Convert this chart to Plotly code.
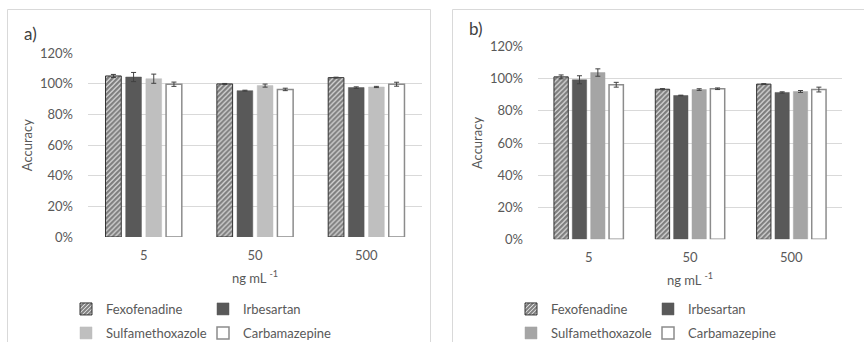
import plotly.graph_objects as go

categories = ["5", "50", "500"]
series = ["Fexofenadine", "Irbesartan", "Sulfamethoxazole", "Carbamazepine"]

# Panel a) accuracy (%) and error (%)
a_values = {
    "Fexofenadine": [105.2, 100.0, 104.1],
    "Irbesartan": [104.5, 95.6, 97.6],
    "Sulfamethoxazole": [103.4, 98.9, 98.0],
    "Carbamazepine": [99.8, 96.4, 99.8],
}
a_errors = {
    "Fexofenadine": [1.0, 0.3, 0.3],
    "Irbesartan": [3.0, 0.3, 0.5],
    "Sulfamethoxazole": [3.0, 1.0, 0.4],
    "Carbamazepine": [1.4, 0.8, 1.3],
}
# Panel b)
b_values = {
    "Fexofenadine": [101.2, 93.5, 96.7],
    "Irbesartan": [99.4, 89.6, 91.5],
    "Sulfamethoxazole": [103.9, 93.3, 92.1],
    "Carbamazepine": [96.3, 93.8, 93.3],
}
b_errors = {
    "Fexofenadine": [1.2, 0.4, 0.3],
    "Irbesartan": [2.5, 0.2, 0.4],
    "Sulfamethoxazole": [2.3, 0.5, 0.6],
    "Carbamazepine": [1.5, 0.5, 1.5],
}

y_ticks = [0, 20, 40, 60, 80, 100, 120]
y_tick_labels = ["0%", "20%", "40%", "60%", "80%", "100%", "120%"]

W, H = 864, 342
TXT = "#595959"
GRID = "#d9d9d9"
FONT = "Lato"

def style(name, panel):
    if name == "Fexofenadine":
        return dict(color="white", line=dict(color="#333333", width=1),
                    pattern=dict(shape="/", fgcolor="#000000", bgcolor="white",
                                 size=3.5, solidity=0.75))
    if name == "Irbesartan":
        return dict(color="#595959", line=dict(color="#595959", width=0.5))
    if name == "Sulfamethoxazole":
        c = "#bfbfbf" if panel == "a" else "#a5a5a5"
        return dict(color=c, line=dict(color=c, width=0.5))
    return dict(color="white", line=dict(color="#8c8c8c", width=1.5))

fig = go.Figure()
legends = {"a": ["legend", "legend2"], "b": ["legend3", "legend4"]}
for panel, vals, errs, xa, ya in [("a", a_values, a_errors, "x", "y"),
                                  ("b", b_values, b_errors, "x2", "y2")]:
    for i, s in enumerate(series):
        fig.add_trace(go.Bar(
            x=categories, y=vals[s], name=s, xaxis=xa, yaxis=ya,
            marker=style(s, panel),
            error_y=dict(type="data", array=errs[s], visible=True,
                         color="#404040", thickness=1, width=2.5),
            legend=legends[panel][i // 2],
        ))

def px_x(p):
    return p / W

def px_y(p):
    return 1 - p / H

tfont = dict(family=FONT, size=13, color=TXT)
xaxis_common = dict(showgrid=False, showline=False, zeroline=False,
                    tickfont=tfont, ticklabelstandoff=9,
                    title=dict(text="ng mL <sup>-1</sup>", standoff=11, font=tfont))
yaxis_common = dict(range=[0, 120], tickmode="array", tickvals=y_ticks,
                    ticktext=y_tick_labels, showgrid=True, gridcolor=GRID,
                    gridwidth=1, zeroline=False, showline=False,
                    tickfont=tfont, ticklabelstandoff=14,
                    title=dict(text="Accuracy", standoff=4, font=tfont))

fig.update_layout(
    width=W, height=H, margin=dict(l=0, r=0, t=0, b=0, autoexpand=False),
    paper_bgcolor="white", plot_bgcolor="white",
    barmode="group", bargap=0.275, bargroupgap=0.22,
    font=dict(family=FONT, color=TXT),
    xaxis=dict(domain=[px_x(88), px_x(422)], anchor="y", **xaxis_common),
    yaxis=dict(domain=[px_y(237), px_y(53.3)], anchor="x", **yaxis_common),
    xaxis2=dict(domain=[px_x(538), px_x(842)], anchor="y2", **xaxis_common),
    yaxis2=dict(domain=[px_y(239.3), px_y(46.7)], anchor="x2", **yaxis_common),
    showlegend=True,
)

leg_common = dict(orientation="h", xanchor="left", yanchor="middle",
                  entrywidth=92, entrywidthmode="pixels",
                  bgcolor="rgba(0,0,0,0)", itemwidth=30,
                  font=dict(family=FONT, size=13, color=TXT),
                  traceorder="normal")
fig.update_layout(
    legend=dict(x=px_x(66), y=px_y(309), **leg_common),
    legend2=dict(x=px_x(66), y=px_y(333), **leg_common),
    legend3=dict(x=px_x(511), y=px_y(309), **leg_common),
    legend4=dict(x=px_x(511), y=px_y(333), **leg_common),
)

# panel frames
frame = dict(type="rect", xref="paper", yref="paper", layer="below",
             line=dict(color=GRID, width=1), fillcolor="rgba(0,0,0,0)")
fig.add_shape(x0=px_x(7.5), x1=px_x(430.5), y0=-0.2, y1=px_y(9.5), **frame)
fig.add_shape(x0=px_x(452.5), x1=1.2, y0=-0.2, y1=px_y(9.5), **frame)

# panel labels
for txt, x, y in [("a)", 22, 34), ("b)", 467, 29)]:
    fig.add_annotation(text=txt, x=px_x(x), y=px_y(y), xref="paper", yref="paper",
                       xanchor="left", yanchor="middle", showarrow=False,
                       font=dict(family=FONT, size=17, color="#404040"))

fig.write_html("out.html")
